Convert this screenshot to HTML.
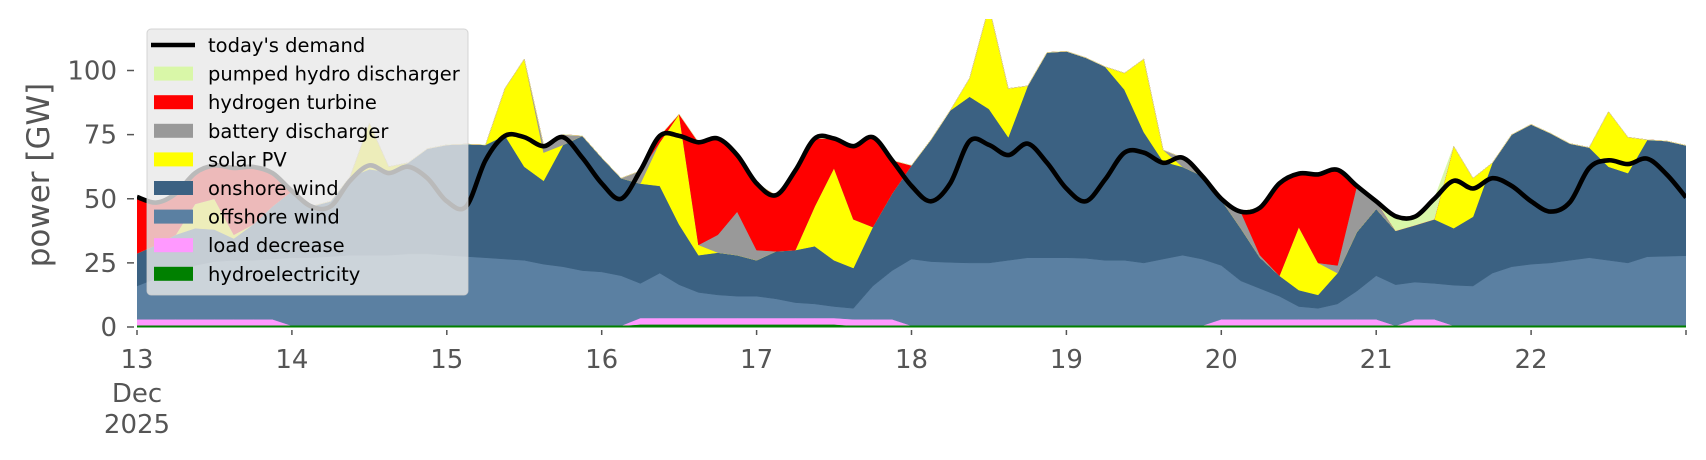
<!DOCTYPE html>
<html><head><meta charset="utf-8">
<style>
html,body{margin:0;padding:0;background:#fff;}
svg{display:block;font-family:"DejaVu Sans","Liberation Sans",sans-serif;}
</style></head>
<body>
<svg id="chart" width="1706" height="460" viewBox="0 0 1706 460" xmlns="http://www.w3.org/2000/svg">
<defs><clipPath id="plotclip"><rect x="137" y="19" width="1549" height="309"/></clipPath></defs>
<g id="areas" clip-path="url(#plotclip)"></g>
<g id="demand" clip-path="url(#plotclip)"></g>
<g id="axes"></g>
<text x="0" y="0" transform="translate(49,175) rotate(-90)" text-anchor="middle" font-size="31" fill="#555">power [GW]</text>
<g id="legend"></g>
</svg>
<script>
// time axis: 3-hourly from 13 Dec 00:00 to 23 Dec 00:00
const dayLabels = ["13","14","15","16","17","18","19","20","21","22"];
const yTicks = [0,25,50,75,100];
const hydro = [0.5,0.5,0.5,0.5,0.5,0.5,0.5,0.5,0.5,0.5,0.5,0.5,0.5,0.5,0.5,0.5,0.5,0.5,0.5,0.5,0.5,0.5,0.5,0.5,0.5,0.5,1,1,1,1,1,1,1,1,1,1,1,0.5,0.5,0.5,0.5,0.5,0.5,0.5,0.5,0.5,0.5,0.5,0.5,0.5,0.5,0.5,0.5,0.5,0.5,0.5,0.5,0.5,0.5,0.5,0.5,0.5,0.5,0.5,0.5,0.5,0.5,0.5,0.5,0.5,0.5,0.5,0.5,0.5,0.5,0.5,0.5,0.5,0.5,0.5,0.5];
const loadDecrease = [2.5,2.5,2.5,2.5,2.5,2.5,2.5,2.5,0,0,0,0,0,0,0,0,0,0,0,0,0,0,0,0,0,0,2.5,2.5,2.5,2.5,2.5,2.5,2.5,2.5,2.5,2.5,2.5,2.5,2.5,2.5,0,0,0,0,0,0,0,0,0,0,0,0,0,0,0,0,2.5,2.5,2.5,2.5,2.5,2.5,2.5,2.5,2.5,0,2.5,2.5,0,0,0,0,0,0,0,0,0,0,0,0,0];
const offshore = [13,16,19,21,22.5,23,23,23.5,26.5,26.5,27,27.5,27.5,27.5,28,28,27.5,27,26.5,26,25.5,24,23,21.5,21,19.5,13.5,17.5,13,10,9,8.5,8.5,7.5,6,5.5,4.5,4.3,13,19,26,25,24.7,24.5,24.5,25.5,26.5,26.5,26.5,26.3,25.5,25.5,24.5,26,27.5,26,21,15,12,9,5,4.3,6,11,17,16,14.5,14,15.8,15.5,20.5,23,24,24.5,25.5,26.5,25.5,24.5,26.9,27.1,27.3];
const onshore = [12.7,13,14,14.5,12.5,8.5,14,20.5,26,20,21.5,30.5,33.5,32.5,35.5,41,43,43.8,44,48.2,36.5,32.5,47.5,52.5,44.5,38,38.9,34,23.5,14.5,16.5,16,14,18.5,20.5,22.5,18,15.7,23,30,36.5,47.5,59.2,64.8,60,48,67,80,80.5,78.2,75.5,66.5,51,38,34.4,32.5,25.5,20.5,12,8,6.4,5.2,12,23,26,21,22.2,25,22.2,27,43,51.5,54.5,50.5,45.5,43,36.5,35,45.6,44.9,43];
const solar = [0,0,0,9.5,12,1.5,0,0,0,0,0,0,18,2,0,0,0,0,0,18.3,42,11,0,0,0,0,0,17,43,4,0,0,0,0,0,15.5,36,19,0,0,0,0,0,7.2,40,19,0,0,0,0,0,6.5,28.5,4.5,0,0,0,0,0,0,24.6,12.5,0,0,0,0,0,0,32,15,0,0,0,0,0,0,21.5,14,0,0,0];
const battery = [0,0,0,0,0,0,0,0,0,0,0,0,0,0,0,0,0,0,0,0,0,3,4,0,0,0,5,0,0,0,7,17,4,0,0,0,0,0,0,0,0,0,0,0,0,0,0,0,0,0,0,0,0,0,3.6,0,0.5,6.5,1,0,0,0,3,18,3,0,0,0,0,0,0,0,0,0,0,0,0,0,0,0,0];
const hydrogen = [22,16.5,16,12,13,26,22.4,13.5,0,0,0,0,0,0,0,0,0,0,0,0,0,0,0,0,0,0,0,2.5,0,40,37.5,22,26,21.9,31,26.5,11.5,28.5,35,13,0,0,0,0,0,0,0,0,0,0,0,0,0,0,0,0,0,0,18.5,36,20.8,34.5,37.3,0,0,0,0,0,0,0,0,0,0,0,0,0,0,0,0,0,0];
const pumpedHydro = [0,0,0,0,0,0,0,0,0,0,0,0,0,0,0,0,0,0,0,0,0,0,0,0,0,0,0,0,0,0,0,0,0,0,0,0,0,0,0,0,0,0,0,0,0,0,0,0,0,0,0,0,0,0,0,0,0,0,0,0,0,0,0,0,0,5.7,3.3,8,0,0,0,0,0,0,0,0,0,0,0,0,0];
const demand = [50.7,48.5,52,60,63,62,62.4,60,53,47,47,57,63,60,62.5,58,49,47,65,74.5,74,70.5,74,66,56,50,61,74.5,74.5,72,73.5,67,56,51.4,61,73.5,73.5,70.5,74,65,55,49,56,72.5,71,67,71.5,64,54,49,57.5,68,68,64,66,59,50,45,46.5,56,59.8,59.5,61.3,55,49,43.2,43,50,57,54,58,55,49,45,48.6,62,65,63.5,65.6,59.5,50.5];

const X0=137, X1=1686, NDAYS=10, Y0=327, PXGW=2.565;
const stepsPerDay=8;
function xs(i){return X0+(X1-X0)*(i/stepsPerDay)/NDAYS;}
function ys(v){return Y0-v*PXGW;}
const NS="http://www.w3.org/2000/svg";
function mk(tag,attrs,parent){const e=document.createElementNS(NS,tag);for(const k in attrs)e.setAttribute(k,attrs[k]);parent.appendChild(e);return e;}

const layers=[
 {d:hydro,c:"#008000",n:"hydroelectricity"},
 {d:loadDecrease,c:"#ff99ff",n:"load decrease"},
 {d:offshore,c:"#5b80a2",n:"offshore wind"},
 {d:onshore,c:"#3b6182",n:"onshore wind"},
 {d:solar,c:"#ffff00",n:"solar PV"},
 {d:battery,c:"#999999",n:"battery discharger"},
 {d:hydrogen,c:"#ff0000",n:"hydrogen turbine"},
 {d:pumpedHydro,c:"#d9f7a8",n:"pumped hydro discharger"}
];
const areas=document.getElementById('areas');
const N=demand.length;
let cum=new Array(N).fill(0);
layers.forEach(L=>{
  const top=cum.map((c,i)=>c+L.d[i]);
  let p="M"+xs(0)+","+ys(top[0]);
  for(let i=1;i<N;i++)p+=" L"+xs(i).toFixed(1)+","+ys(top[i]).toFixed(1);
  for(let i=N-1;i>=0;i--)p+=" L"+xs(i).toFixed(1)+","+ys(cum[i]).toFixed(1);
  p+="Z";
  const el=mk('path',{d:p,fill:L.c,stroke:L.c,'stroke-width':0.5},areas);
  
  
  cum=top;
});
const hl=mk('line',{x1:X0,x2:X1,y1:Y0-0.5,y2:Y0-0.5,stroke:"#008000","stroke-width":2},areas);



// demand line (smoothed Catmull-Rom)
const pts=demand.map((v,i)=>[xs(i),ys(v)]);
let dp="M"+pts[0][0].toFixed(1)+","+pts[0][1].toFixed(1);
for(let i=0;i<N-1;i++){
  const p0=pts[Math.max(0,i-1)],p1=pts[i],p2=pts[i+1],p3=pts[Math.min(N-1,i+2)];
  const c1=[p1[0]+(p2[0]-p0[0])/6,p1[1]+(p2[1]-p0[1])/6];
  const c2=[p2[0]-(p3[0]-p1[0])/6,p2[1]-(p3[1]-p1[1])/6];
  dp+=" C"+c1[0].toFixed(1)+","+c1[1].toFixed(1)+" "+c2[0].toFixed(1)+","+c2[1].toFixed(1)+" "+p2[0].toFixed(1)+","+p2[1].toFixed(1);
}
const dl=mk('path',{d:dp,fill:"none",stroke:"#000","stroke-width":4.6,"stroke-linejoin":"round"},document.getElementById('demand'));



// axes
const ax=document.getElementById('axes');
yTicks.forEach(v=>{
  const t=mk('line',{x1:127,x2:134,y1:ys(v),y2:ys(v),stroke:"#555","stroke-width":1.5},ax);
  
  
  const l=mk('text',{x:117,y:ys(v)+9,'text-anchor':'end','font-size':26,fill:"#555"},ax);
  l.textContent=v;
  
  
});
for(let d=0;d<=NDAYS;d++){
  const x=X0+(X1-X0)*d/NDAYS;
  const t=mk('line',{x1:x,x2:x,y1:330,y2:335,stroke:"#555","stroke-width":1.5},ax);
  
  
  if(d<dayLabels.length){
    const l=mk('text',{x:x,y:368,'text-anchor':'middle','font-size':26,fill:"#555"},ax);
    l.textContent=dayLabels[d];
    
    
  }
}
const m=mk('text',{x:X0,y:402,'text-anchor':'middle','font-size':26,fill:"#555"},ax);m.textContent="Dec";


const yr=mk('text',{x:X0,y:433,'text-anchor':'middle','font-size':26,fill:"#555"},ax);yr.textContent="2025";



// legend
const lg=document.getElementById('legend');
const bx=mk('rect',{x:147,y:29,width:321,height:266,rx:4,fill:"#e8e8e8","fill-opacity":0.8,stroke:"#cccccc","stroke-opacity":0.8},lg);


const entries=[{n:"today's demand",c:"#000",line:true}].concat(layers.slice().reverse().map(L=>({n:L.n,c:L.c})));
entries.forEach((e,i)=>{
  const cy=45+i*28.6;
  if(e.line){
    const s=mk('line',{x1:151,x2:195,y1:cy,y2:cy,stroke:"#000","stroke-width":4.6},lg);
    
    
  } else {
    const s=mk('rect',{x:154,y:cy-7,width:39,height:14,fill:e.c},lg);
    
    
  }
  const t=mk('text',{x:208,y:cy+7,'font-size':19.5,fill:"#000"},lg);
  t.textContent=e.n;
  
  
});
</script>
</body></html>
